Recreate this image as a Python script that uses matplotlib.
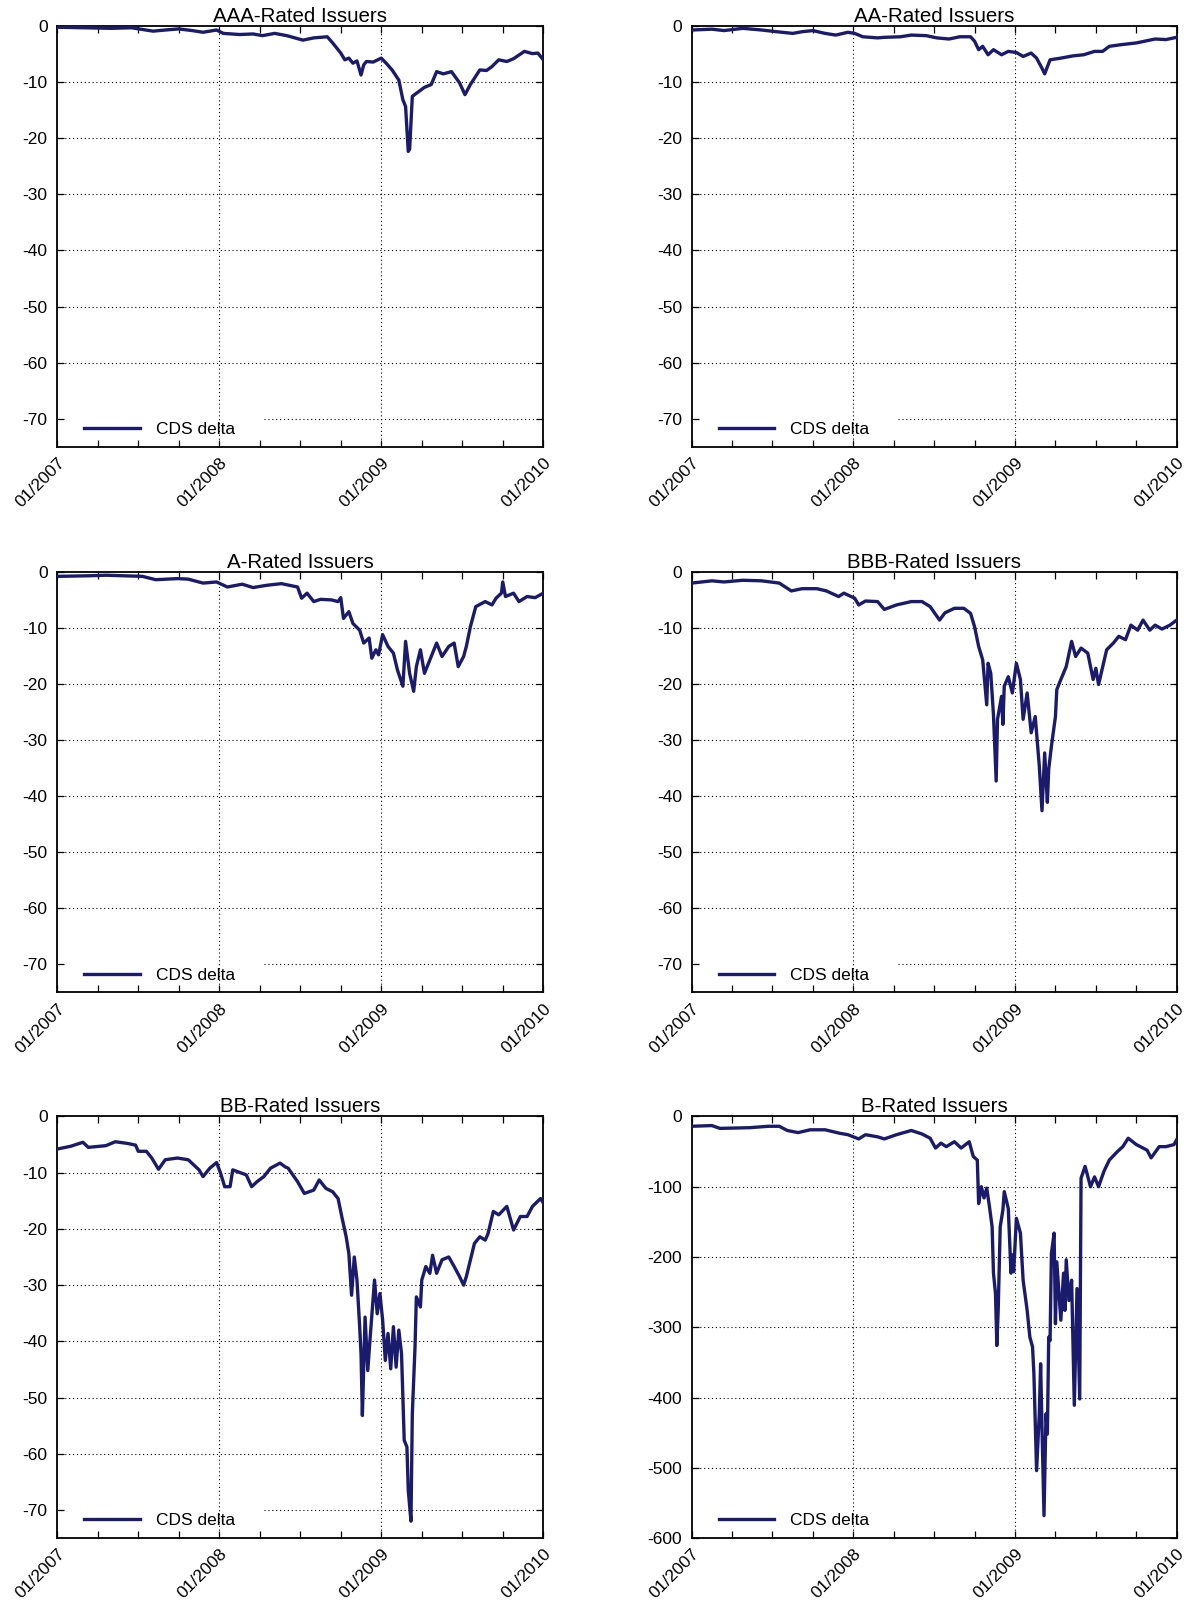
import matplotlib
matplotlib.use("Agg")
import matplotlib.pyplot as plt
from matplotlib.ticker import FixedLocator, MultipleLocator

plt.rcParams['font.family'] = ['Liberation Sans', 'DejaVu Sans']
plt.rcParams['axes.unicode_minus'] = False

# x axis is months since 01/2007
year_ticks = [0, 12, 24, 36]
year_labels = ['01/2007', '01/2008', '01/2009', '01/2010']

aaa_t = [0, 2, 4, 5.5, 7.1, 8, 9, 10, 10.8, 11.8, 12.3, 13.5, 14.5, 15.2, 16.1, 17, 18.2, 19,
         20, 20.4, 21, 21.3, 21.6, 21.9, 22.2, 22.5, 22.7, 22.9, 23.4, 24, 24.4, 24.8, 25.3,
         25.6, 25.8, 26, 26.1, 26.3, 26.8, 27.2, 27.7, 28.1, 28.6, 29.2, 29.8, 30.2, 30.6,
         31.3, 31.8, 32.2, 32.7, 33.3, 33.8, 34.6, 35.2, 35.6, 36]
aaa_v = [-0.3, -0.4, -0.5, -0.4, -1.0, -0.8, -0.6, -0.9, -1.2, -0.8, -1.4, -1.6, -1.5, -1.8,
         -1.4, -1.8, -2.6, -2.2, -2.0, -3.1, -4.9, -6.1, -5.8, -6.7, -6.3, -8.8, -7.0, -6.4,
         -6.5, -5.8, -6.8, -7.9, -9.7, -13.2, -14.4, -22.4, -22.0, -12.6, -11.7, -11.0, -10.5,
         -8.2, -8.6, -8.2, -10.2, -12.3, -10.5, -7.9, -8.0, -7.3, -6.1, -6.4, -5.9, -4.6,
         -5.0, -4.9, -6.1]

aa_t = [0, 1.5, 2.4, 3.8, 5.2, 6.3, 7.5, 8.2, 9, 9.9, 10.7, 11.6, 12.1, 12.7, 13.8, 14.3, 15.5,
        16.3, 17.4, 18.2, 19.1, 19.9, 20.7, 21, 21.3, 21.6, 22, 22.4, 23, 23.5, 24.1, 24.6,
        25.2, 25.6, 26, 26.2, 26.6, 27.4, 28.3, 29.1, 29.9, 30.5, 31, 31.9, 33, 33.8, 34.4,
        35.2, 36]
aa_v = [-0.8, -0.65, -0.9, -0.5, -0.8, -1.1, -1.4, -1.1, -0.9, -1.4, -1.7, -1.2, -1.4, -2.0,
        -2.2, -2.1, -2.0, -1.7, -1.8, -2.2, -2.4, -2.0, -2.0, -2.8, -4.3, -3.7, -5.2, -4.3,
        -5.2, -4.6, -4.8, -5.5, -4.9, -5.8, -7.6, -8.6, -6.1, -5.8, -5.4, -5.2, -4.6, -4.6,
        -3.7, -3.4, -3.1, -2.7, -2.4, -2.5, -2.1]

a_t = [0, 2.3, 3.6, 6.3, 7.3, 8.9, 9.7, 10.8, 11.8, 12.6, 13.7, 14.5, 15.5, 16.6, 17.8, 18.1,
       18.5, 19, 19.5, 20.3, 20.8, 21, 21.2, 21.6, 21.9, 22.4, 22.7, 23.1, 23.3, 23.6, 23.8,
       24.1, 24.5, 24.9, 25.2, 25.6, 25.8, 26.1, 26.4, 26.6, 26.9, 27.2, 27.7, 28.1, 28.5,
       29, 29.4, 29.7, 30.1, 30.3, 30.6, 31, 31.7, 32.2, 32.5, 32.9, 33, 33.2, 33.8, 34.2,
       34.8, 35.4, 36]
a_v = [-0.8, -0.7, -0.6, -0.8, -1.4, -1.2, -1.3, -2.0, -1.8, -2.7, -2.2, -2.8, -2.4, -2.1,
       -2.7, -4.7, -3.8, -5.3, -4.9, -5.0, -5.3, -4.6, -8.3, -7.1, -9.2, -10.4, -12.7, -11.8,
       -15.4, -13.9, -14.8, -11.2, -13.3, -14.5, -17.5, -20.4, -12.4, -18.1, -21.3, -16.9,
       -13.9, -18.1, -15.1, -12.7, -15.1, -13.3, -12.7, -16.9, -15.1, -13.3, -9.8, -6.2,
       -5.3, -5.9, -4.7, -3.8, -1.8, -4.4, -3.8, -5.3, -4.4, -4.6, -3.8]

bbb_t = [0, 1.5, 2.4, 3.8, 5.2, 6.5, 7.4, 8.2, 9.3, 10, 10.9, 11.3, 12.1, 12.4, 12.9, 13.8,
         14.3, 15.2, 16.3, 17.1, 17.7, 18.4, 18.8, 19.5, 20.2, 20.7, 21, 21.3, 21.6, 21.9, 22,
         22.2, 22.4, 22.6, 22.7, 23, 23.1, 23.2, 23.5, 23.8, 24.1, 24.4, 24.6, 24.9, 25.2,
         25.5, 25.8, 26, 26.2, 26.4, 26.5, 26.7, 27, 27.1, 27.4, 27.8, 28.2, 28.5, 28.9,
         29.4, 29.8, 30, 30.2, 30.8, 31.3, 31.7, 32.2, 32.6, 33.1, 33.5, 34, 34.4, 34.9,
         35.5, 36]
bbb_v = [-2.0, -1.6, -1.8, -1.5, -1.6, -2.0, -3.4, -3.0, -3.0, -3.4, -4.4, -3.8, -4.7, -5.9,
         -5.2, -5.3, -6.7, -5.9, -5.3, -5.3, -6.2, -8.6, -7.3, -6.5, -6.5, -7.4, -9.8, -13.3,
         -15.7, -23.7, -16.3, -18.1, -25.5, -37.3, -26.3, -22.2, -27.2, -20.4, -18.7, -21.6,
         -16.3, -19.2, -26.3, -21.6, -28.7, -25.8, -34.6, -42.6, -32.3, -41.1, -35.2, -31.1,
         -25.8, -21.0, -19.2, -16.9, -12.4, -15.1, -13.6, -14.5, -19.2, -17.2, -20.1, -13.9,
         -12.7, -11.5, -12.1, -9.5, -10.4, -8.6, -10.4, -9.5, -10.2, -9.5, -8.6]

bb_t = [0, 1, 1.9, 2.3, 3.6, 4.3, 5.2, 5.8, 6, 6.6, 7, 7.5, 8, 8.9, 9.7, 10.5, 10.8, 11.3,
        11.8, 12.1, 12.4, 12.8, 13, 14, 14.4, 14.8, 15.3, 15.8, 16.5, 16.9, 17.1, 17.8, 18.3,
        19, 19.4, 19.9, 20.4, 20.8, 21.1, 21.4, 21.6, 21.8, 22, 22.2, 22.4, 22.5, 22.6, 22.8,
        23, 23.2, 23.5, 23.7, 23.9, 24.1, 24.3, 24.5, 24.7, 24.9, 25.1, 25.3, 25.5, 25.7,
        25.9, 26, 26.2, 26.3, 26.5, 26.6, 26.9, 27, 27.3, 27.6, 27.8, 28.1, 28.5, 29, 29.4,
        29.8, 30.1, 30.3, 30.9, 31.3, 31.7, 31.9, 32.3, 32.7, 33.3, 33.8, 34.3, 34.8, 35.2,
        35.8, 36]
bb_v = [-5.8, -5.3, -4.6, -5.5, -5.2, -4.5, -4.8, -5.1, -6.2, -6.2, -7.4, -9.4, -7.7, -7.4,
        -7.7, -9.5, -10.7, -9.2, -8.2, -10.1, -12.5, -12.5, -9.5, -10.4, -12.5, -11.6, -10.7,
        -9.2, -8.3, -9.0, -9.2, -11.6, -13.7, -13.1, -11.3, -12.8, -13.4, -14.6, -18.1, -21.4,
        -24.4, -31.8, -25.0, -29.1, -37.4, -42.2, -53.2, -35.7, -45.2, -38.6, -29.1, -35.1,
        -31.5, -36.2, -43.4, -38.6, -44.9, -37.4, -44.6, -38.0, -42.2, -57.6, -58.8, -66.5,
        -72.0, -52.9, -41.0, -32.1, -33.9, -29.1, -26.7, -27.9, -24.7, -27.9, -25.5, -25.0,
        -26.7, -28.5, -30.0, -28.5, -22.6, -21.4, -22.0, -20.9, -16.9, -17.5, -16.0, -20.2,
        -17.8, -17.8, -16.0, -14.6, -15.4]

b_t = [0, 1.5, 2.1, 4.3, 5.7, 6.5, 7.1, 7.9, 8.8, 9.9, 11, 11.6, 12.4, 12.9, 13.8, 14.3, 15.2,
       16.3, 17.1, 17.7, 18.1, 18.5, 18.9, 19.5, 20, 20.6, 20.9, 21.2, 21.3, 21.5, 21.7, 21.9,
       22.1, 22.3, 22.4, 22.55, 22.65, 22.75, 22.9, 23.1, 23.2, 23.5, 23.7, 23.8, 23.9, 24.1,
       24.4, 24.6, 24.9, 25.1, 25.3, 25.4, 25.6, 25.8, 25.9, 26.0, 26.15, 26.3, 26.4, 26.5,
       26.6, 26.7, 26.9, 27.0, 27.1, 27.4, 27.6, 27.7, 27.8, 28.0, 28.2, 28.4, 28.6, 28.8,
       28.9, 29.2, 29.6, 29.9, 30.2, 30.6, 31, 31.6, 32, 32.4, 33, 33.8, 34.1, 34.7, 35.2,
       35.8, 36]
b_v = [-14, -13, -17, -16, -14, -14, -20, -23, -19, -19, -24, -26, -32, -26, -29, -32, -26,
       -20, -25, -31, -45, -38, -43, -36, -45, -36, -57, -62, -124, -100, -116, -102, -128,
       -157, -223, -252, -326, -276, -157, -133, -107, -131, -223, -197, -221, -145, -166,
       -233, -276, -314, -328, -366, -504, -423, -352, -442, -568, -423, -452, -314, -319,
       -195, -166, -295, -207, -290, -223, -276, -204, -262, -233, -411, -245, -402, -88,
       -71, -100, -86, -100, -78, -62, -50, -43, -31, -40, -48, -59, -43, -43, -40, -33]

titles = ['AAA-Rated Issuers', 'AA-Rated Issuers', 'A-Rated Issuers',
          'BBB-Rated Issuers', 'BB-Rated Issuers', 'B-Rated Issuers']
series = [(aaa_t, aaa_v), (aa_t, aa_v), (a_t, a_v),
          (bbb_t, bbb_v), (bb_t, bb_v), (b_t, b_v)]
y_limits = [(-75, 0)] * 5 + [(-600, 0)]
y_steps = [10] * 5 + [100]

line_color = '#1b1b6e'

fig = plt.figure(figsize=(11.88, 16.05), dpi=100)

col_left = [0.0482, 0.5822]
col_width = [0.4091, 0.4083]
row_bottom = [0.7214, 0.3817, 0.0417]
row_height = [0.2627, 0.2620, 0.2627]

for i, title in enumerate(titles):
    r, c = divmod(i, 2)
    ax = fig.add_axes([col_left[c], row_bottom[r], col_width[c], row_height[r]])
    t, v = series[i]
    ymin, ymax = y_limits[i]
    step = y_steps[i]

    ax.plot(t, v, color=line_color, lw=2.4, label='CDS delta', zorder=3)

    ax.set_xlim(0, 36)
    ax.set_ylim(ymin, ymax)

    # dotted grid: years on x, every step on y
    for x in year_ticks[1:-1]:
        ax.axvline(x, color='black', lw=0.8, ls=(0, (1, 2.5)), zorder=1)
    y = ymax - step
    while y > ymin:
        # keep the lowest line clear of the key
        xmin = 0.425 if (y - ymin) < 0.1 * (ymax - ymin) else 0.0
        ax.axhline(y, xmin=xmin, color='black', lw=0.8, ls=(0, (1, 2.5)), zorder=1)
        y -= step

    ax.xaxis.set_major_locator(FixedLocator(year_ticks))
    ax.xaxis.set_minor_locator(MultipleLocator(3))
    ax.set_xticklabels(year_labels, rotation=45, ha='right', va='top',
                       rotation_mode='anchor', fontsize=12.5)
    ax.yaxis.set_major_locator(MultipleLocator(step))
    ax.tick_params(axis='both', which='both', direction='in', top=True, right=True,
                   length=5, width=0.9)
    ax.tick_params(axis='y', labelsize=12.5, pad=7)
    ax.tick_params(axis='x', pad=6)
    for sp in ax.spines.values():
        sp.set_linewidth(1.3)

    ax.set_title(title, fontsize=14.8, pad=2)

    ax.legend(loc='center left', bbox_to_anchor=(0.038, 0.041), frameon=False,
              borderpad=0, handlelength=3.2, handletextpad=0.9, fontsize=12.5)

fig.savefig('out.png', dpi=100)
